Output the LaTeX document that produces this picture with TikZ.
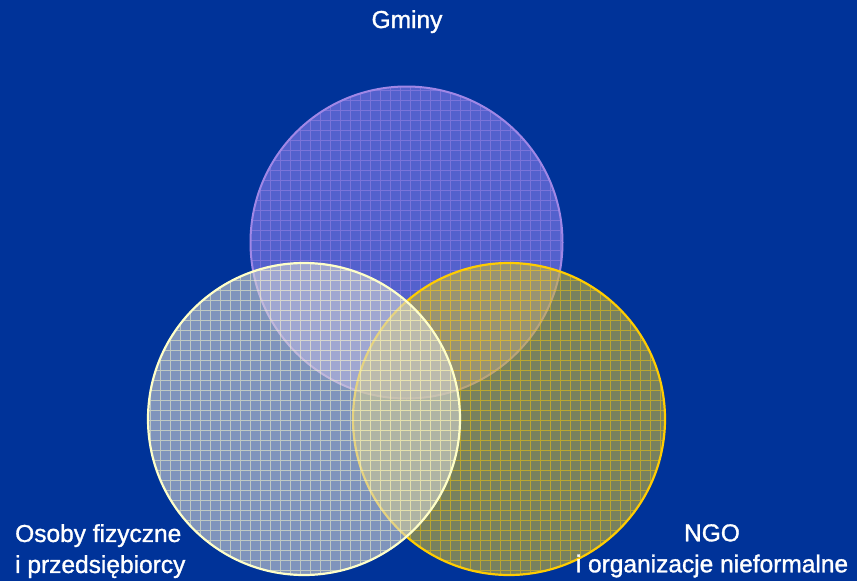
\documentclass[tikz,border=0pt]{standalone}
\usepackage{fontspec}
\setmainfont{Liberation Sans}
\newfontfamily\napis[FakeBold=1.2]{Liberation Sans}
\usepackage{xcolor}
\definecolor{tlo}{RGB}{0,51,153}
\definecolor{gminy}{RGB}{140,128,240}
\definecolor{gminyline}{RGB}{160,135,230}
\definecolor{ngo}{RGB}{200,182,55}
\definecolor{ngoline}{RGB}{255,204,0}
\definecolor{osoby}{RGB}{212,214,212}
\definecolor{osobyline}{RGB}{255,255,200}
\usetikzlibrary{positioning}
\tikzset{
  label text/.style={text=white, font=\napis\fontsize{24.5}{31}\selectfont, inner sep=0pt},
  set fill/.style={fill=#1, fill opacity=0.6},
  set grid/.style={draw=#1, line width=0.7pt, opacity=0.5},
}
\begin{document}
\begin{tikzpicture}[x=1pt,y=-1pt]
\fill[tlo] (0,0) rectangle (857,581);
\useasboundingbox (0,0) rectangle (857,581);
\coordinate (G) at (406.5,242.5);
\coordinate (O) at (304,419);
\coordinate (N) at (509,419);
% Gminy
\fill[set fill=gminy] (G) circle (156);
\begin{scope}
\clip (G) circle (156);
\draw[set grid=gminyline] (0,0) grid[step=10pt] (857,581);
\end{scope}
\draw[gminyline, line width=2pt] (G) circle (156);
% NGO
\fill[set fill=ngo] (N) circle (156);
\begin{scope}
\clip (N) circle (156);
\draw[set grid=ngoline] (0,0) grid[step=10pt] (857,581);
\end{scope}
\draw[ngoline, line width=2.2pt] (N) circle (156);
% osoby
\fill[set fill=osoby] (O) circle (156);
\begin{scope}
\clip (O) circle (156);
\draw[set grid=osobyline] (0,0) grid[step=10pt] (857,581);
\end{scope}
\draw[osobyline, line width=2.2pt] (O) circle (156);
% napisy
\node[label text, anchor=base] (gminytxt) at (407,28) {Gminy};
\node[label text, anchor=north west, align=left] (osobytxt) at (15,524) {Osoby fizyczne\\i przedsiębiorcy};
\node[label text, anchor=north, align=center] (ngotxt) at (712,524) {NGO\\i organizacje nieformalne};
\end{tikzpicture}
\end{document}
